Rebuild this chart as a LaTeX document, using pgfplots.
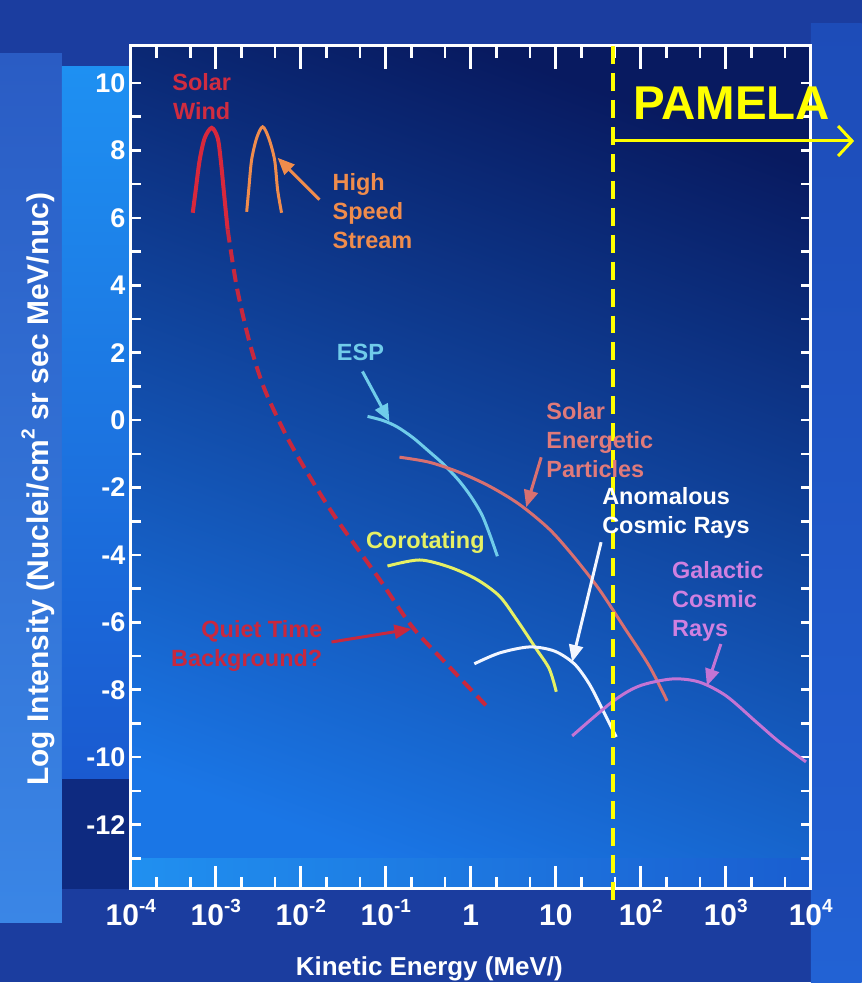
\documentclass[border=0pt]{standalone}
\usepackage{fontspec}
\setmainfont{Liberation Sans}
\usepackage{pgfplots}
\pgfplotsset{compat=1.18}
\usetikzlibrary{arrows.meta}

\definecolor{bgmain}{HTML}{1B3D9F}
\definecolor{leftA}{HTML}{2A5CC4}
\definecolor{leftB}{HTML}{3A86E6}
\definecolor{tlA}{HTML}{1E90F2}
\definecolor{tlB}{HTML}{1A5AD0}
\definecolor{tlC}{HTML}{0E2A80}
\definecolor{rtA}{HTML}{1D4CB8}
\definecolor{rtB}{HTML}{2262D4}
\definecolor{inA}{HTML}{081A60}
\definecolor{inB}{HTML}{0F3590}
\definecolor{inC}{HTML}{1A76E6}
\definecolor{bandA}{HTML}{2090F0}
\definecolor{bandB}{HTML}{1A5ED0}
\definecolor{swred}{HTML}{D8283C}
\definecolor{swtext}{HTML}{D02C40}
\definecolor{hsorange}{HTML}{F08C4C}
\definecolor{qtred}{HTML}{C8283E}
\definecolor{espblue}{HTML}{70CCEA}
\definecolor{sepsalmon}{HTML}{D87070}
\definecolor{septext}{HTML}{E07A7A}
\definecolor{coroyel}{HTML}{E6F064}
\definecolor{acrwhite}{HTML}{F2F6FF}
\definecolor{gcrviol}{HTML}{C474D4}
\definecolor{gcrtext}{HTML}{D080E0}
\definecolor{pamyel}{HTML}{FFFF00}

\newcommand{\fs}[1]{\fontsize{#1}{#1}\selectfont\bfseries}
\newcommand{\lbl}{\fontsize{23.5}{29}\selectfont\bfseries}
\newcommand{\tenexp}[1]{10\raisebox{0.45em}{\fontsize{19}{19}\selectfont #1}}

\begin{document}
\begin{tikzpicture}
\begin{scope}[x=1pt,y=1pt]
\useasboundingbox (0,0) rectangle (863,984);
% backgrounds
\fill[bgmain] (0,0) rectangle (863,984);
\shade[top color=leftA, bottom color=leftB] (0,60) rectangle (62,930);
\shade[top color=tlA, bottom color=tlB] (62,204) rectangle (131,917);
\fill[tlC] (62,94) rectangle (131,204);
\shade[top color=rtA, bottom color=rtB] (812,0) rectangle (863,960);
% plot interior
\shade[top color=inA, middle color=inB, bottom color=inC, shading angle=-20] (131,94) rectangle (812,938);
\shade[left color=bandA, right color=bandB] (131,94) rectangle (812,124);
\end{scope}

\begin{axis}[
  at={(131pt,94pt)}, anchor=south west,
  width=681pt, height=844pt, scale only axis,
  xmode=log, log basis x=10,
  xmin=1e-4, xmax=1e4, ymin=-13.9, ymax=11.1,
  clip=false,
  axis line style={white, line width=3pt},
  tick style={white, line width=2.6pt},
  xtick={1e-4,1e-3,1e-2,1e-1,1,10,100,1000,10000},
  xticklabels={\tenexp{-4},\tenexp{-3},\tenexp{-2},\tenexp{-1},1,10,\tenexp{2},\tenexp{3},\tenexp{4}},
  minor xtick={2e-4,5e-4,2e-3,5e-3,2e-2,5e-2,0.2,0.5,2,5,20,50,200,500,2000,5000},
  ytick={-12,-10,-8,-6,-4,-2,0,2,4,6,8,10},
  yticklabels={-12,-10,-8,-6,-4,-2,0,2,4,6,8,10},
  minor ytick={-13,-11,-9,-7,-5,-3,-1,1,3,5,7,9},
  extra y ticks={8}, extra y tick labels={},
  extra y tick style={/pgfplots/major tick length=22pt},
  xtick style={/pgfplots/major tick length=23pt,/pgfplots/minor tick length=12pt},
  ytick style={/pgfplots/major tick length=10pt,/pgfplots/minor tick length=10pt},
  xticklabel style={white, font=\fs{30}, anchor=base, yshift=-37pt},
  yticklabel style={white, font=\fs{27}, xshift=-2pt},
]
% Solar wind
\addplot[swred, line width=4pt, smooth, tension=0.5] coordinates {
 (5.36e-4,6.15) (5.81e-4,6.83) (6.47e-4,7.72) (7.41e-4,8.37) (8.95e-4,8.67)
 (1.052e-3,8.37) (1.143e-3,7.72) (1.239e-3,6.83) (1.306e-3,6.24) (1.380e-3,5.65)};
% High speed stream
\addplot[hsorange, line width=3pt, smooth, tension=0.5] coordinates {
 (2.31e-3,6.18) (2.44e-3,6.83) (2.64e-3,7.72) (3.03e-3,8.37) (3.56e-3,8.70)
 (4.19e-3,8.37) (4.92e-3,7.72) (5.34e-3,6.83) (5.94e-3,6.15)};
% Quiet time background
\addplot[qtred, line width=4pt, dash pattern=on 13pt off 7pt, smooth] coordinates {
 (1.380e-3,5.65) (1.762e-3,3.96) (2.50e-3,2.30) (3.70e-3,0.95) (6.81e-3,-0.48)
 (1.268e-2,-1.67) (2.64e-2,-2.94) (8.43e-2,-4.72) (0.206,-6.14) (0.560,-7.32) (1.656,-8.57)};
% ESP
\addplot[espblue, line width=3pt, smooth] coordinates {
 (6.10e-2,0.11) (9.2e-2,-0.01) (0.1337,-0.19) (0.206,-0.51) (0.323,-0.93) (0.483,-1.32)
 (0.723,-1.79) (1.000,-2.26) (1.346,-2.80) (1.670,-3.39) (2.056,-4.04)};
% Solar energetic particles
\addplot[sepsalmon, line width=3pt, smooth] coordinates {
 (0.1449,-1.10) (0.325,-1.25) (0.734,-1.55) (1.656,-1.96) (3.73,-2.50) (8.43,-3.24)
 (16.5,-4.07) (32.4,-5.02) (63.5,-6.14) (125.6,-7.29) (204,-8.33)};
% Corotating
\addplot[coroyel, line width=3pt, smooth] coordinates {
 (0.1047,-4.33) (0.249,-4.15) (0.561,-4.36) (1.164,-4.72) (2.17,-5.22) (3.43,-5.90) (5.90,-6.79) (8.39,-7.38) (10.14,-8.06)};
% Anomalous cosmic rays
\addplot[acrwhite, line width=3pt, smooth] coordinates {
 (1.102,-7.23) (2.17,-6.91) (4.89,-6.73) (9.59,-6.85) (16.5,-7.23) (24.8,-7.83) (35.2,-8.57) (51.4,-9.40)};
% Galactic cosmic rays
\addplot[gcrviol, line width=3pt, smooth] coordinates {
 (15.6,-9.37) (46.1,-8.36) (95.7,-7.89) (234,-7.68) (485,-7.77) (1009,-8.18) (2270,-8.95) (4227,-9.54) (8790,-10.14)};
% PAMELA threshold
\draw[pamyel, line width=3.5pt, dash pattern=on 18pt off 9pt] (axis cs:47.4,11.1) -- (axis cs:47.4,-14.34);
\draw[pamyel, line width=3pt, -{Straight Barb[length=14pt,width=30pt,line width=3pt]}] (axis cs:47.4,8.28) -- (axis cs:32400,8.28);
\end{axis}

\begin{scope}[x=1pt,y=1pt, ann/.style={line width=3pt, -{Triangle[length=17pt,width=14pt]}}]
% axis titles
\node[white, rotate=90, font=\fs{30}] at (38,494) {Log Intensity (Nuclei/cm\raisebox{0.45em}{\fontsize{19}{19}\selectfont 2} sr sec MeV/nuc)};
\node[white, font=\fs{26}] at (430,14) {Kinetic Energy (MeV/)};
% labels
\node[swtext, align=center, font=\lbl] at (202,887.5) {Solar\\Wind};
\node[hsorange, align=left, anchor=west, font=\lbl, inner sep=0pt] at (333,772.5) {High\\Speed\\Stream};
\node[espblue, font=\lbl] at (361,631) {ESP};
\node[septext, align=left, anchor=west, font=\lbl, inner sep=0pt] at (547,543) {Solar\\Energetic\\Particles};
\node[coroyel, font=\lbl] at (426,441) {Corotating};
\node[white, align=left, anchor=west, font=\lbl, inner sep=0pt] at (603,470) {Anomalous\\Cosmic Rays};
\node[gcrtext, align=left, anchor=west, font=\lbl, inner sep=0pt] at (673,382) {Galactic\\Cosmic\\Rays};
\node[qtred, align=right, anchor=east, font=\lbl, inner sep=0pt] at (323,337) {Quiet Time\\Background?};
\node[pamyel, anchor=west, inner sep=0pt, font=\fs{47.5}] at (634,880.5) {PAMELA};
% arrows
\draw[ann, hsorange] (320,784) -- (278,826);
\draw[ann, espblue] (363,612) -- (390,562);
\draw[ann, sepsalmon] (542,526) -- (527,476);
\draw[ann, acrwhite] (602,441) -- (573,321);
\draw[ann, gcrviol] (722,339) -- (708,297);
\draw[ann, qtred] (332,341) -- (412,354);
\end{scope}
\end{tikzpicture}
\end{document}
